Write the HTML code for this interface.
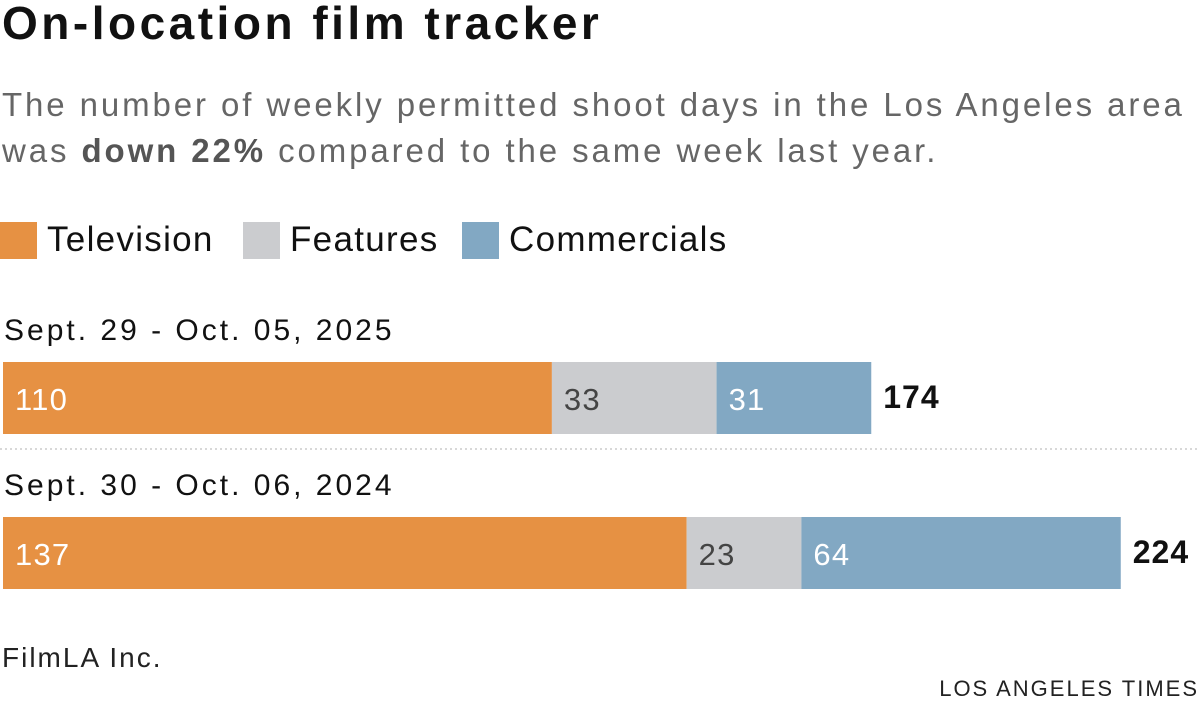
<!DOCTYPE html>
<html><head><meta charset="utf-8"><style>
body{margin:0;width:1200px;height:704px;background:#fff;font-family:"Liberation Sans",sans-serif;position:relative;overflow:hidden}
.abs{position:absolute;white-space:nowrap}
</style></head><body>
<div class="abs" style="left:2px;top:-4px;font-size:46px;letter-spacing:3.5px;font-weight:bold;color:#111">On-location film tracker</div>
<div class="abs" style="left:2px;top:82px;font-size:33px;letter-spacing:2.9px;line-height:46px;color:#666">The number of weekly permitted shoot days in the Los Angeles area<br>was <b style="color:#555">down 22%</b> compared to the same week last year.</div>
<div class="abs" style="left:0;top:220px;font-size:35px;letter-spacing:1.3px;color:#111">
<span style="position:absolute;left:0;top:0;display:flex;align-items:center"><span style="width:37px;height:37px;background:#e69143;display:inline-block;margin-right:10px"></span>Television</span>
<span style="position:absolute;left:243px;top:0;display:flex;align-items:center"><span style="width:37px;height:37px;background:#cbcccf;display:inline-block;margin-right:10px"></span>Features</span>
<span style="position:absolute;left:462px;top:0;display:flex;align-items:center"><span style="width:37px;height:37px;background:#82a8c3;display:inline-block;margin-right:10px"></span>Commercials</span>
</div>
<svg id="chart" width="1200" height="704" style="position:absolute;left:0;top:0"></svg>
<div class="abs" style="left:2px;top:642px;font-size:28px;letter-spacing:2px;color:#222">FilmLA Inc.</div>
<div class="abs" style="right:1px;top:676px;font-size:22px;color:#222;letter-spacing:2px">LOS ANGELES TIMES</div>
<script>
const periods=["Sept. 29 - Oct. 05, 2025","Sept. 30 - Oct. 06, 2024"];
const television=[110,137];
const features=[33,23];
const commercials=[31,64];
const totals=[174,224];
const svg=document.getElementById('chart');
const NS='http://www.w3.org/2000/svg';
const x0=3,scale=4.99;
const xs=v=>x0+v*scale;
const colors=["#e69143","#cbcccf","#82a8c3"];
const txtCol=["#fff","#444","#fff"];
const names=["television","features","commercials"];
function el(t,a){const e=document.createElementNS(NS,t);for(const k in a)e.setAttribute(k,a[k]);svg.appendChild(e);return e;}
periods.forEach((p,i)=>{
  const top=362+i*155;
  const lab=el('text',{x:4,y:top-22,'font-size':30,'letter-spacing':3,fill:'#111','font-family':'Liberation Sans, sans-serif'});
  lab.textContent=p;
  
  
  const vals=[television[i],features[i],commercials[i]];
  let acc=0;
  vals.forEach((v,j)=>{
    const r=el('rect',{x:xs(acc),y:top,width:v*scale,height:72,fill:colors[j]});
    
    
    const t=el('text',{x:xs(acc)+12,y:top+48,'font-size':31,'letter-spacing':1.2,fill:txtCol[j],'font-family':'Liberation Sans, sans-serif'});
    t.textContent=v;
    
    
    acc+=v;
  });
  const tot=el('text',{x:xs(acc)+12,y:top+46,'font-size':32,'letter-spacing':1,'font-weight':'bold',fill:'#111','font-family':'Liberation Sans, sans-serif'});
  tot.textContent=totals[i];
  
  
});
const ln=el('line',{x1:0,x2:1200,y1:449,y2:449,stroke:'#ccc','stroke-width':1.5,'stroke-dasharray':'2 3'});


</script>
</body></html>
